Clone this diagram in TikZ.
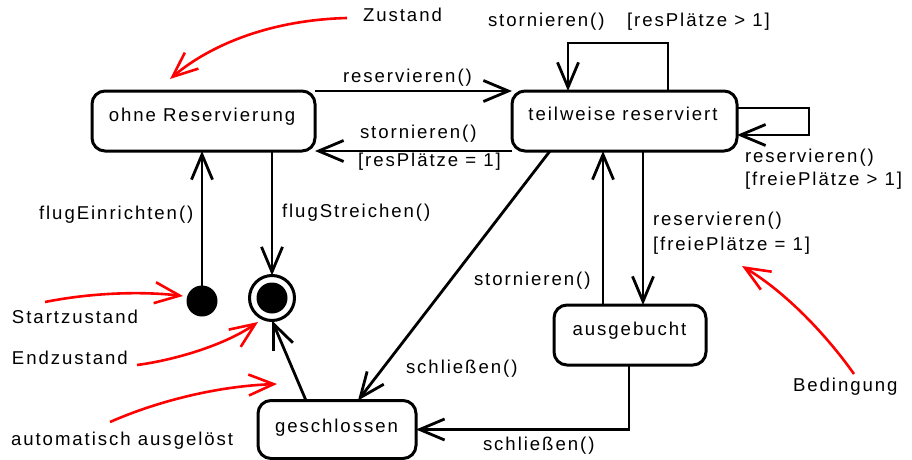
\documentclass[tikz,border=0pt]{standalone}
\usepackage{fontspec}
\setmainfont{Liberation Sans}[LetterSpace=10.5]
\usetikzlibrary{arrows.meta,calc}
\begin{document}
\begin{tikzpicture}[x=1pt,y=-1pt,
  every node/.style={inner sep=0pt, outer sep=0pt, font=\fontsize{18.6}{22}\selectfont},
  txt/.style={anchor=base west},
  ctxt/.style={anchor=base},
  statebox/.style={draw, rounded corners=13pt, line width=3pt, minimum height=60pt},
  conn/.style={line width=2.8pt, -{Straight Barb[length=25pt,width=21pt]}},
  note/.style={red, line width=2.6pt, -{Straight Barb[length=25pt,width=21pt]}},
]
\useasboundingbox (0,0) rectangle (912,460);

% states
\node[statebox, minimum width=223pt] (ohne) at (203.5,121) {};
\node[ctxt] (ohne-t) at (202,121) {ohne Reservierung};
\node[statebox, minimum width=225pt] (teil) at (624.5,121) {};
\node[ctxt] (teil-t) at (623,120) {teilweise reserviert};
\node[statebox, minimum width=152pt] (ausg) at (630,335) {};
\node[ctxt] (ausg-t) at (629.5,335) {ausgebucht};
\node[statebox, minimum width=158pt, minimum height=58pt] (gesch) at (337,429.5) {};
\node[ctxt] (gesch-t) at (336.5,432) {geschlossen};

% initial and final pseudo states
\node[circle, fill=black, minimum size=31pt] (start) at (202,301) {};
\node[circle, draw, line width=3pt, minimum size=45pt] (final) at (272,298) {};
\fill (final.center) circle (15.5pt);

% transitions
\draw[conn] (start) -- (start |- ohne.south);
\draw[conn] (ohne.south -| final.north) -- (final.north);
\draw[conn] (ohne.north east) -- (teil.north west);
\draw[conn] (teil.south west) -- (ohne.south east);
\draw[conn] ([xshift=43.5pt]teil.north) -- ++(0,-48) -| ([xshift=-56.5pt]teil.north);
\draw[conn] ([yshift=13pt]teil.east) -- ++(72,0) |- ([yshift=-14pt]teil.east);
\draw[conn] ([xshift=13pt]ausg.north |- teil.south) -- ([xshift=13pt]ausg.north);
\draw[conn] ([xshift=-27pt]ausg.north) -- ([xshift=-27pt]ausg.north |- teil.south);
\draw[conn] ([xshift=-74.5pt]teil.south) -- ([xshift=21pt]gesch.north);
\draw[conn] ([xshift=-1pt]ausg.south) |- (gesch.east);
\draw[conn] ([xshift=-31pt]gesch.north) -- (final.south);

% transition labels
\node[txt] (l1) at (343,82) {reservieren()};
\node[txt] (l2) at (360,138) {stornieren()};
\node[txt] (l3) at (358,166) {[resPlätze = 1]};
\node[txt] (l4) at (488,27) {stornieren()};
\node[txt] (l5) at (627,27) {[resPlätze > 1]};
\node[txt] (l6) at (745,162) {reservieren()};
\node[txt] (l7) at (745,185) {[freiePlätze > 1]};
\node[txt] (l8) at (653,225) {reservieren()};
\node[txt] (l9) at (653,250) {[freiePlätze = 1]};
\node[txt] (l10) at (474,285) {stornieren()};
\node[txt] (l11) at (406,373) {schließen()};
\node[txt] (l12) at (483,450) {schließen()};
\node[txt] (l13) at (39,219) {flugEinrichten()};
\node[txt] (l14) at (282,217) {flugStreichen()};

% annotations
\node[txt] (zustand) at (363,22) {Zustand};
\node[txt] (startz) at (12,323) {Startzustand};
\node[txt] (endz) at (12,364) {Endzustand};
\node[txt] (auto) at (11,445) {automatisch ausgelöst};
\node[txt] (bed) at (793,391) {Bedingung};

\coordinate (zustand-a) at (347,18);
\coordinate (zustand-b) at (170,79);
\coordinate (startz-a) at (45,302);
\coordinate (startz-b) at (183,296);
\coordinate (endz-a) at (137,365);
\coordinate (endz-b) at (258,322);
\coordinate (auto-a) at (110,422);
\coordinate (auto-b) at (277,384);
\coordinate (bed-a) at (854,374);
\coordinate (bed-b) at (742,266);

\draw[note] (zustand-a) .. controls (270,20) and (210,45) .. (zustand-b);
\draw[note] (startz-a) .. controls (90,293) and (140,291) .. (startz-b);
\draw[note] (endz-a) .. controls (175,360) and (225,345) .. (endz-b);
\draw[note] (auto-a) .. controls (160,400) and (220,386) .. (auto-b);
\draw[note] (bed-a) .. controls (830,340) and (790,295) .. (bed-b);
\end{tikzpicture}
\end{document}
